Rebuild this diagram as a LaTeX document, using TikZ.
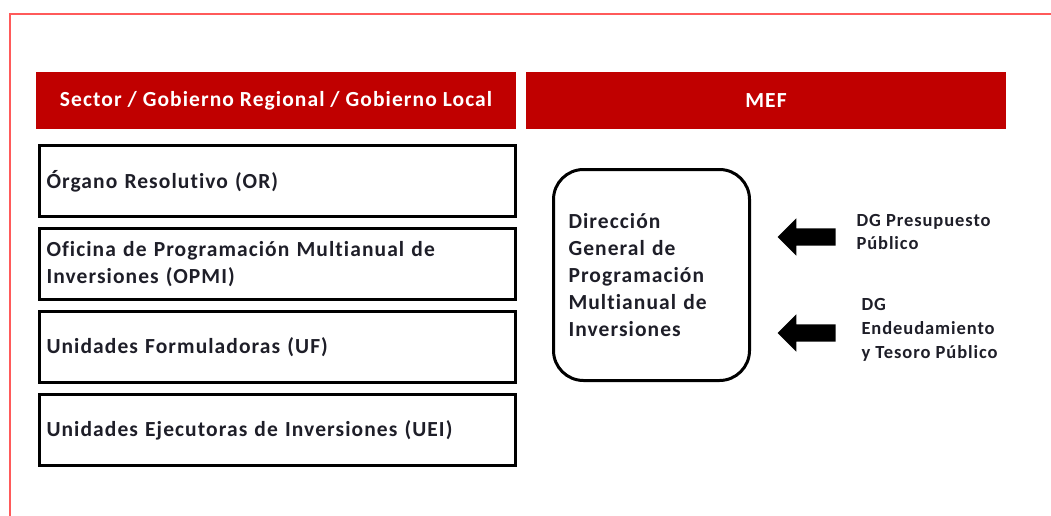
\documentclass[tikz,border=0pt]{standalone}
\usepackage{fontspec}
\setmainfont[Ligatures=NoCommon,LetterSpace=5]{Carlito}
\usepackage{tikz}
\usetikzlibrary{shapes.arrows}
\definecolor{rojoMEF}{HTML}{C00000}
\definecolor{marco}{HTML}{FF5A5A}
\definecolor{texto}{HTML}{1E1E28}

\begin{document}
\begin{tikzpicture}[x=1pt,y=-1pt,
            cabecera/.style={fill=rojoMEF,text=white,font=\fontsize{21.5}{26}\selectfont\bfseries,
                minimum width=480pt,minimum height=57pt,inner sep=0pt},
            caja/.style={draw=black,line width=3.5pt,minimum width=476pt,minimum height=71pt,
                text width=462pt,align=left,inner xsep=6pt,text=texto,
                font=\fontsize{21.5}{26.5}\selectfont\bfseries},
            flecha/.style={single arrow,fill=black,shape border rotate=180,inner sep=8.5pt,
                minimum width=37pt,minimum height=58pt,single arrow head extend=10pt},
            etiqueta/.style={align=left,text=texto,font=\fontsize{18.5}{24}\selectfont\bfseries}]
            \useasboundingbox (0,0) rectangle (1051,516);
            \draw[marco,line width=2pt] (10,516) -- (10,14) -- (1051,14);

            \node[cabecera] (sgl) at (276,100.5){Sector / Gobierno Regional / Gobierno Local};
            \node[cabecera] (mef) at (766,100.5){MEF};

            \node[caja] (OR) at (277.5,181){Órgano Resolutivo (OR)};
            \node[caja] (OPMI) at (277.5,264){Oficina de Programación Multianual de\\Inversiones (OPMI)};
            \node[caja] (UF) at (277.5,347){Unidades Formuladoras (UF)};
            \node[caja] (UEI) at (277.5,430){Unidades Ejecutoras de Inversiones (UEI)};

            \node[draw=black,line width=3pt,rounded corners=30pt,minimum width=196pt,
                minimum height=211pt,text width=166pt,align=left,inner xsep=15pt,text=texto,
                font=\fontsize{21.5}{27}\selectfont\bfseries] (DGPMI) at (651.5,275)
                {Dirección\\General de\\Programación\\Multianual de\\Inversiones};

            \node[flecha] (flechaP) at (811,237){};
            \node[flecha] (flechaE) at (811,333){};

            \node[etiqueta,anchor=west] (DGPP) at (853,232){DG Presupuesto\\Público};
            \node[etiqueta,anchor=west] (DGETP) at (858,330){DG\\Endeudamiento\\y Tesoro Público};
          \end{tikzpicture}
\end{document}
